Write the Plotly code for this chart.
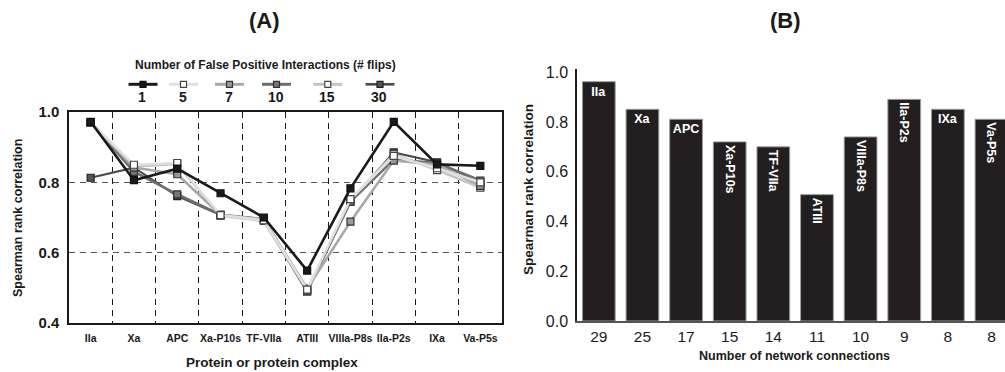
import plotly.graph_objects as go

# ---- data ----
proteins = ["IIa", "Xa", "APC", "Xa-P10s", "TF-VIIa", "ATIII",
            "VIIIa-P8s", "IIa-P2s", "IXa", "Va-P5s"]

flip_counts = ["1", "5", "7", "10", "15", "30"]
corr_flips_1 = [0.972, 0.806, 0.839, 0.769, 0.700, 0.549, 0.783, 0.972, 0.851, 0.847]
corr_flips_5 = [0.970, 0.850, 0.855, 0.707, 0.692, 0.495, 0.752, 0.875, 0.840, 0.800]
corr_flips_7 = [0.970, 0.842, 0.823, 0.707, 0.695, 0.498, 0.688, 0.862, 0.850, 0.790]
corr_flips_10 = [0.970, 0.830, 0.766, 0.708, 0.695, 0.490, 0.745, 0.865, 0.855, 0.805]
corr_flips_15 = [0.970, 0.845, 0.852, 0.705, 0.690, 0.490, 0.750, 0.880, 0.835, 0.785]
corr_flips_30 = [0.813, 0.842, 0.761, 0.707, 0.695, 0.494, 0.745, 0.885, 0.857, 0.800]

connections = ["29", "25", "17", "15", "14", "11", "10", "9", "8", "8"]
bar_corr = [0.962, 0.851, 0.811, 0.720, 0.700, 0.508, 0.740, 0.891, 0.851, 0.811]
horizontal_labels = {"IIa", "Xa", "APC", "IXa"}

# ---- styling ----
W, H = 1005, 372
FONT = "Liberation Sans, Arial, Helvetica, sans-serif"


def px(x):
    return x / W


def py(y):
    return 1 - y / H


series = [
    # (label, values, line colour, line width, marker fill, marker edge)
    ("30", corr_flips_30, "#4a4a4a", 2.2, "#555555", "#222222"),
    ("15", corr_flips_15, "#c4c4c4", 2.6, "#ffffff", "#444444"),
    ("10", corr_flips_10, "#6e6e6e", 2.6, "#777777", "#333333"),
    ("7", corr_flips_7, "#a8a8a8", 2.6, "#999999", "#333333"),
    ("5", corr_flips_5, "#e0e0e0", 2.6, "#ffffff", "#444444"),
    ("1", corr_flips_1, "#1a1a1a", 2.6, "#1a1a1a", "#111111"),
]

fig = go.Figure()
xs = list(range(len(proteins)))

for name, vals, lc, lw, mf, me in series:
    fig.add_trace(go.Scatter(
        x=xs, y=vals, mode="lines+markers", name=name,
        line=dict(color=lc, width=lw),
        marker=dict(symbol="square", size=7, color=mf, line=dict(color=me, width=1.2)),
        xaxis="x", yaxis="y", showlegend=False,
    ))

# ---- panel B bars (split by label orientation) ----
bx = list(range(len(connections)))
for angle, keep in ((0, True), (90, False)):
    sel = [i for i, p in enumerate(proteins) if (p in horizontal_labels) == keep]
    fig.add_trace(go.Bar(
        x=[bx[i] for i in sel], y=[bar_corr[i] for i in sel],
        text=[proteins[i] for i in sel],
        textposition="inside", insidetextanchor="end", textangle=angle,
        constraintext="none",
        textfont=dict(color="white", size=12.5, family=FONT, weight="bold"),
        marker=dict(color="#231f20", line=dict(color="#9a9a9a", width=1)),
        width=0.75, xaxis="x2", yaxis="y2", showlegend=False,
    ))

# ---- layout ----
a_left, a_right, a_top, a_bot = 69, 502, 112, 323
b_left, b_top, b_bot = 577, 69, 321

fig.update_layout(
    width=W, height=H,
    margin=dict(l=0, r=0, t=0, b=0),
    paper_bgcolor="white", plot_bgcolor="white",
    font=dict(family=FONT, color="#1a1a1a"),
    barmode="overlay",
    xaxis=dict(
        domain=[px(a_left), px(a_right)], range=[-0.5, 9.5],
        tickvals=xs, ticktext=proteins,
        tickfont=dict(size=10.5, weight="bold", family=FONT),
        showgrid=False, zeroline=False, ticks="", ticklabelstandoff=5,
        showline=True, mirror=True, linecolor="#1a1a1a", linewidth=1.5,
        minor=dict(tickvals=[i + 0.5 for i in xs[:-1]], showgrid=True,
                   griddash="6px,5px", gridcolor="#1a1a1a", gridwidth=1, ticks=""),
        automargin=False,
    ),
    yaxis=dict(
        domain=[py(a_bot), py(a_top)], range=[0.4, 1.0],
        tickvals=[0.4, 0.6, 0.8, 1.0], tickformat=".1f",
        tickfont=dict(size=15, weight="bold", family=FONT),
        showgrid=True, griddash="6px,5px", gridcolor="#555555", gridwidth=1,
        zeroline=False, ticks="", ticklabelstandoff=5,
        showline=True, mirror=True, linecolor="#1a1a1a", linewidth=1.5,
        automargin=False,
    ),
    xaxis2=dict(
        domain=[px(b_left), 1.0], range=[-0.5, 9.31], anchor="y2",
        tickvals=bx, ticktext=connections,
        tickfont=dict(size=15.5, family=FONT),
        showgrid=False, zeroline=False, ticks="", ticklabelstandoff=0,
        showline=True, linecolor="#555555", linewidth=2,
        automargin=False,
    ),
    yaxis2=dict(
        domain=[py(b_bot), py(b_top)], range=[0, 1.013], anchor="x2",
        tickvals=[0, 0.2, 0.4, 0.6, 0.8, 1.0], tickformat=".1f",
        tickfont=dict(size=16, family=FONT),
        showgrid=False, zeroline=False, ticks="", ticklabelstandoff=4,
        showline=True, linecolor="#1a1a1a", linewidth=1.5,
        automargin=False,
    ),
)

ann = []


def text(x, y, s, size, bold=True, angle=0, xanchor="center"):
    ann.append(dict(
        x=px(x), y=py(y), xref="paper", yref="paper", text=s, showarrow=False,
        xanchor=xanchor, yanchor="middle", textangle=angle,
        font=dict(size=size, family=FONT, color="#1a1a1a",
                  weight="bold" if bold else "normal"),
    ))


# panel titles
text(264, 21, "(A)", 22)
text(785, 21, "(B)", 22)

# axis titles
text(272, 362, "Protein or protein complex", 13.5)
text(18, 218, "Spearman rank correlation", 12.5, angle=-90)
text(794, 356, "Number of network connections", 12.5)
text(528, 190, "Spearman rank correlation", 13.5, angle=-90)

# legend
text(265, 65, "Number of False Positive Interactions (# flips)", 12)
legend_x = {"1": 143, "5": 183.5, "7": 229.5, "10": 276.5, "15": 327.8, "30": 380}
shapes = []
style = {s[0]: s for s in series}
for name in flip_counts:
    _, _, lc, lw, mf, me = style[name]
    cx, cy = legend_x[name], 84.3
    shapes.append(dict(type="line", xref="paper", yref="paper",
                       x0=px(cx - 14.5), x1=px(cx + 14.5), y0=py(cy), y1=py(cy),
                       line=dict(color=lc, width=lw + 0.4)))
    shapes.append(dict(type="rect", xref="paper", yref="paper",
                       x0=px(cx - 3), x1=px(cx + 3), y0=py(cy + 3), y1=py(cy - 3),
                       fillcolor=mf, line=dict(color=me, width=1.2)))
    text(cx - 1, 97, name, 14)

fig.update_layout(annotations=ann, shapes=shapes)

fig.write_html("out.html")
